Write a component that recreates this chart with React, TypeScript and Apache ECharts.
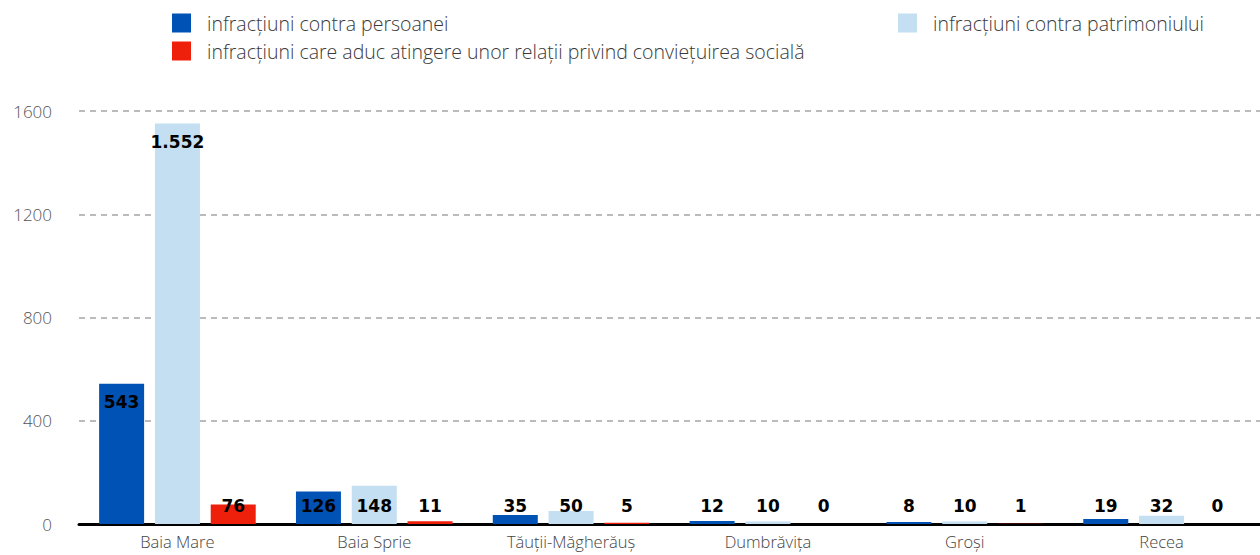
import React, { useEffect, useRef } from "react";
import * as echarts from "echarts";

const categories = ["Baia Mare", "Baia Sprie", "Tăuții-Măgherăuș", "Dumbrăvița", "Groși", "Recea"];
const persoanei = [543, 126, 35, 12, 8, 19];
const patrimoniului = [1552, 148, 50, 10, 10, 32];
const conviet = [76, 11, 5, 0, 1, 0];
const seriesNames = [
  "infracțiuni contra persoanei",
  "infracțiuni contra patrimoniului",
  "infracțiuni care aduc atingere unor relații privind conviețuirea socială",
];
const colors = ["#0052b4", "#c3dff1", "#ee1f0b"];
const yTicks = [0, 400, 800, 1200, 1600];

function fmt(v: number): string {
  return String(v).replace(/\B(?=(\d{3})+(?!\d))/g, ".");
}

export default function App() {
  const ref = useRef<HTMLDivElement>(null);
  useEffect(() => {
    document.body.style.margin = "0";
    if (!ref.current) return;
    const chart = echarts.init(ref.current, undefined, { renderer: "svg" });
    const mk = (name: string, data: number[], color: string) => ({
      name,
      type: "bar",
      barWidth: 45,
      barGap: "24%",
      itemStyle: { color },
      data: data.map((v) => ({
        value: v,
        label: {
          show: true,
          position: v > 200 ? "insideTop" : "insideBottom",
          distance: v > 200 ? 10 : 10,
          formatter: () => fmt(v),
          color: "#000",
          fontWeight: "bold",
          fontSize: 17,
          fontFamily: "'DejaVu Sans', sans-serif",
        },
      })),
    });
    const legendText = {
      fontSize: 19.5,
      color: "#3a3a3a",
      fontFamily: "'Open Sans', Lato, sans-serif",
      fontWeight: 300,
      padding: [0, 0, 0, 11],
    };
    const lg = { icon: "rect", itemWidth: 19, itemHeight: 19, itemGap: 10, textStyle: legendText, selectedMode: false, padding: 0 };
    chart.setOption({
      animation: false,
      legend: [
        { ...lg, data: [seriesNames[0]], left: 172, top: 13 },
        { ...lg, data: [seriesNames[2]], left: 172, top: 41 },
        { ...lg, data: [seriesNames[1]], left: 898, top: 13 },
      ],
      grid: { left: 79, right: 0, top: 111, bottom: 31, containLabel: false },
      xAxis: {
        type: "category",
        data: categories,
        axisLine: { lineStyle: { color: "#000", width: 3 } },
        axisTick: { show: false },
        axisLabel: { fontSize: 16.5, color: "#444", fontFamily: "'Open Sans', Lato, sans-serif", fontWeight: 300, margin: 9 },
      },
      yAxis: {
        type: "value",
        min: yTicks[0],
        max: yTicks[yTicks.length - 1],
        interval: 400,
        axisLine: { show: false },
        axisTick: { show: false },
        axisLabel: {
          fontSize: 17,
          color: "#555",
          fontFamily: "'Open Sans', Lato, sans-serif",
          fontWeight: 300,
          margin: 27,
          formatter: (v: number) => String(v),
        },
        splitLine: { lineStyle: { color: "#bbb", type: [6, 5], width: 2 } },
      },
      series: [
        mk(seriesNames[0], persoanei, colors[0]),
        mk(seriesNames[1], patrimoniului, colors[1]),
        mk(seriesNames[2], conviet, colors[2]),
      ],
    });
    return () => chart.dispose();
  }, []);
  return <div ref={ref} style={{ width: 1260, height: 555 }} />;
}
